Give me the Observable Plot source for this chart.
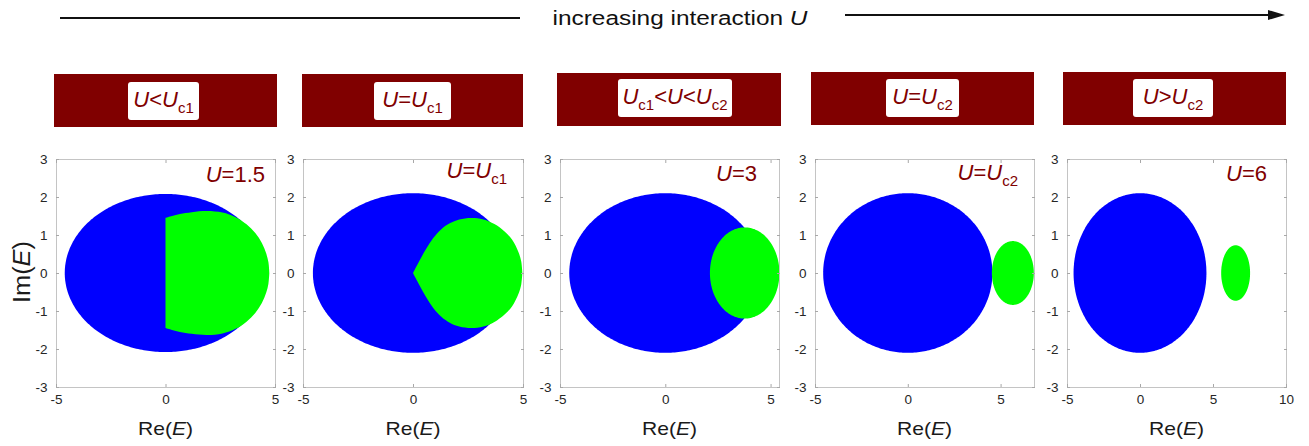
<!DOCTYPE html>
<html>
<head>
<meta charset="utf-8">
<script src="https://cdn.jsdelivr.net/npm/d3@7"></script>
<script src="https://cdn.jsdelivr.net/npm/@observablehq/plot@0.6"></script>
<style>
  html, body { margin: 0; padding: 0; background: #fff; }
  #root { position: relative; width: 1309px; height: 446px; overflow: hidden; background: #fff;
          font-family: "Liberation Sans", Arial, sans-serif; }
  #root svg.panel { position: absolute; overflow: visible; }
  #overlay { position: absolute; left: 0; top: 0; }
</style>
</head>
<body>
<div id="root"></div>
<script>
// ---------------- data ----------------
const bannerLabels = [
  [["U","i"],["<",""],["U","i"],["c1","s"]],
  [["U","i"],["=",""],["U","i"],["c1","s"]],
  [["U","i"],["c1","s"],["<",""],["U","i"],["<",""],["U","i"],["c2","s"]],
  [["U","i"],["=",""],["U","i"],["c2","s"]],
  [["U","i"],[">",""],["U","i"],["c2","s"]]
];
const panelTitles = [
  [["U","i"],["=1.5",""]],
  [["U","i"],["=",""],["U","i"],["c1","s"]],
  [["U","i"],["=3",""]],
  [["U","i"],["=",""],["U","i"],["c2","s"]],
  [["U","i"],["=6",""]]
];
const xMin = [-5, -5, -5, -5, -5];
const xMax = [5, 5, 5.4, 6.8, 10];
const xTickValues = [[-5, 0, 5], [-5, 0, 5], [-5, 0, 5], [-5, 0, 5], [-5, 0, 5, 10]];
const yTickValues = [-3, -2, -1, 0, 1, 2, 3];

// blue bulk band: ellipse centre / semi-axes
const blueCx = [0, 0, 0, 0, 0];
const blueRx = [4.6, 4.55, 4.56, 4.56, 4.55];
const blueRy = [2.08, 2.1, 2.1, 2.1, 2.1];

// green band, panels 3-5: ellipse centre / semi-axes
const greenCx = [null, null, 3.77, 5.66, 6.55];
const greenRx = [null, null, 1.65, 1.13, 0.99];
const greenRy = [null, null, 1.2, 0.84, 0.73];

// green band, panels 1-2: upper outline (symmetric about Im(E)=0)
const green1X = [0, 0.3, 0.66, 1.2, 1.9, 2.6, 3.2, 3.7, 4.1, 4.4, 4.6, 4.7, 4.74];
const green1Y = [1.45, 1.5, 1.55, 1.6, 1.63, 1.59, 1.47, 1.28, 1.05, 0.79, 0.51, 0.28, 0];
const green2X = [0, 0.3, 0.6, 0.92, 1.3, 1.67, 2.1, 2.65, 3.2, 3.7, 4.15, 4.5, 4.8, 4.92, 4.97];
const green2Y = [0, 0.33, 0.64, 0.92, 1.16, 1.31, 1.41, 1.45, 1.41, 1.29, 1.10, 0.88, 0.54, 0.30, 0];

// ---------------- layout ----------------
const frameLeft  = [56, 303, 560, 815, 1067];
const frameRight = [275, 523, 779, 1034, 1286];
const frameTop = 159, frameBottom = 387;
const bannerBox = [[54, 74, 223, 53], [302, 74, 221, 53], [557, 73, 224, 53], [811, 72, 223, 53], [1063, 72, 223, 53]];
const badgeBox  = [[128, 82, 71, 38], [374, 82, 77, 38], [618, 79, 114, 38], [886, 79, 73, 38], [1133, 79, 80, 38]];
const titleRight = [265, 507, 757, 1018, 1267];
const titleBase  = [182, 178, 181, 180, 181];

const RED = "#800000";
const FONT = "'Liberation Sans', Arial, sans-serif";
const root = document.getElementById("root");

function ellipsePts(cx, rx, ry, n = 160) {
  const out = [];
  for (let k = 0; k <= n; k++) {
    const t = Math.PI * k / n;
    const h = ry * Math.sin(t);
    out.push({x: cx - rx * Math.cos(t), lo: -h, hi: h});
  }
  return out;
}
function outlinePts(xs, ys) {
  return xs.map((x, k) => ({x, lo: -ys[k], hi: ys[k]}));
}

const fmt = d => String(d);
for (let i = 0; i < 5; i++) {
  const L = frameLeft[i], R = frameRight[i];
  const mL = 40, mR = 12, mT = 6, mB = 30;
  const blue = ellipsePts(blueCx[i], blueRx[i], blueRy[i]);
  const green = i === 0 ? outlinePts(green1X, green1Y)
              : i === 1 ? outlinePts(green2X, green2Y)
              : ellipsePts(greenCx[i], greenRx[i], greenRy[i]);
  const tickStyle = {stroke: "#a8a8a8", tickSize: -3, tickFormat: () => "", label: null};
  const textStyle = {tickSize: 0, tickFormat: fmt, label: null, fontSize: 13.5, fill: "#262626"};
  const svg = Plot.plot({
    width: R - L + mL + mR,
    height: frameBottom - frameTop + mT + mB,
    marginLeft: mL, marginRight: mR, marginTop: mT, marginBottom: mB,
    x: {domain: [xMin[i], xMax[i]]},
    y: {domain: [-3, 3]},
    style: {fontFamily: FONT, fontSize: "13.5px", color: "#262626", background: "transparent", overflow: "visible"},
    marks: [
      Plot.areaY(blue, {x: "x", y1: "lo", y2: "hi", fill: "#0000ff", clip: true}),
      Plot.areaY(green, {x: "x", y1: "lo", y2: "hi", fill: "#00ff00", curve: i < 2 ? "catmull-rom" : "linear", clip: true}),
      Plot.frame({stroke: "#c4c4c4"}),
      Plot.axisX({anchor: "bottom", ticks: xTickValues[i], ...tickStyle}),
      Plot.axisX({anchor: "top", ticks: xTickValues[i], ...tickStyle}),
      Plot.axisY({anchor: "left", ticks: yTickValues, ...tickStyle}),
      Plot.axisY({anchor: "right", ticks: yTickValues, ...tickStyle}),
      Plot.axisX({anchor: "bottom", ticks: xTickValues[i], tickPadding: 7, ...textStyle}),
      Plot.axisY({anchor: "left", ticks: yTickValues, tickPadding: 9, ...textStyle})
    ]
  });
  svg.classList.add("panel");
  svg.style.left = (L - mL) + "px";
  svg.style.top = (frameTop - mT) + "px";
  root.appendChild(svg);
}

// ---------------- overlay: header, banners, titles, axis labels ----------------
const NS = "http://www.w3.org/2000/svg";
const ov = document.createElementNS(NS, "svg");
ov.setAttribute("id", "overlay");
ov.setAttribute("width", 1309);
ov.setAttribute("height", 446);
root.appendChild(ov);
function el(tag, attrs, parent = ov) {
  const e = document.createElementNS(NS, tag);
  for (const k in attrs) e.setAttribute(k, attrs[k]);
  parent.appendChild(e);
  return e;
}
function richText(parts, attrs, size) {
  const t = el("text", {"font-family": FONT, "font-size": size, ...attrs});
  let down = 0;
  for (const [s, kind] of parts) {
    const sp = el("tspan", {}, t);
    sp.textContent = s;
    if (kind === "i") sp.setAttribute("font-style", "italic");
    if (kind === "s") {
      sp.setAttribute("font-size", Math.round(size * 0.68));
      if (!down) { sp.setAttribute("dy", size * 0.28); down = 1; }
    } else if (down) { sp.setAttribute("dy", -size * 0.28); down = 0; }
  }
  return t;
}

// header arrow
el("line", {x1: 60, y1: 18, x2: 520, y2: 18, stroke: "#111", "stroke-width": 2.2});
el("line", {x1: 845, y1: 15, x2: 1272, y2: 15, stroke: "#111", "stroke-width": 2});
el("path", {d: "M1268,10 L1285,15 L1268,20 Z", fill: "#111"});
richText([["increasing interaction ",""],["U","i"]],
  {x: 680, y: 25, "text-anchor": "middle", fill: "#111", textLength: 255, lengthAdjust: "spacingAndGlyphs"}, 20);

for (let i = 0; i < 5; i++) {
  const [bx, by, bw, bh] = bannerBox[i];
  el("rect", {x: bx, y: by, width: bw, height: bh, fill: RED});
  const [wx, wy, ww, wh] = badgeBox[i];
  el("rect", {x: wx, y: wy, width: ww, height: wh, rx: 3, fill: "#fff"});
  richText(bannerLabels[i], {x: wx + ww / 2, y: wy + wh / 2 + 6, "text-anchor": "middle", fill: RED}, 22);
  richText(panelTitles[i], {x: titleRight[i], y: titleBase[i], "text-anchor": "end", fill: RED}, 22);
  richText([["Re(",""],["E","i"],[")",""]], {x: (frameLeft[i] + frameRight[i]) / 2, y: 435, "text-anchor": "middle",
    fill: "#1a1a1a", textLength: 55, lengthAdjust: "spacingAndGlyphs"}, 19);
}
richText([["Im(",""],["E","i"],[")",""]], {transform: "translate(30,272) rotate(-90)", "text-anchor": "middle",
  fill: "#1a1a1a", textLength: 62, lengthAdjust: "spacingAndGlyphs"}, 23);
</script>
</body>
</html>
